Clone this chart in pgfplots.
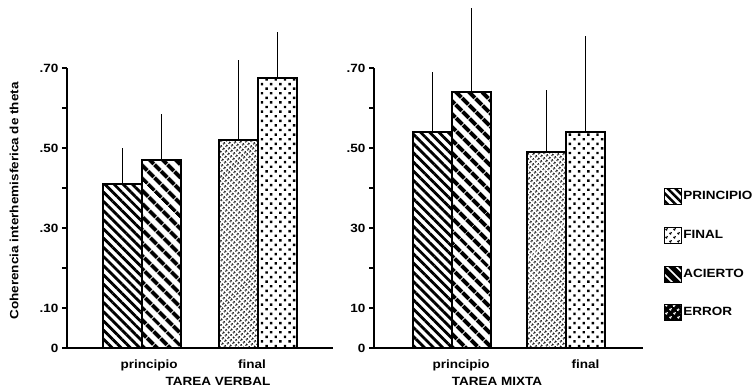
\documentclass[border=0pt]{standalone}
\usepackage{pgfplots}
\pgfplotsset{compat=1.18}
\usepackage{fontspec}
\usetikzlibrary{patterns.meta}
\newfontfamily\wide[FakeStretch=1.13]{Liberation Sans Bold}
\newcommand\lab{\wide\fontsize{12}{14}\selectfont}

% fill styles of the four bar kinds
\tikzset{
  thinhatch/.style={pattern={Lines[angle=-45,distance=6.5bp,line width=2.8bp]}},
  thickhatch/.style={pattern={Lines[angle=-45,distance=9.5bp,line width=4.2bp]}},
  finedots/.style={pattern={Dots[angle=45,distance=3.6bp,radius=1.4bp]}},
  coarsedots/.style={pattern={Dots[angle=45,distance=6.5bp,radius=1.7bp]}},
}

\pgfplotsset{
  panel/.style={
    scale only axis, height=280bp,
    ymin=0, ymax=0.70, clip=false,
    axis lines=left, axis line style={-, line width=1.8bp},
    ytick={0,0.1,0.2,0.3,0.4,0.5,0.6,0.7},
    tick align=outside, major tick length=5bp,
    y tick style={line width=1.2bp, black},
    x tick style={draw=none},
    tick label style={font=\lab},
    x tick label style={yshift=-3bp},
    label style={font=\lab},
  },
  bar/.style={
    ybar, bar width=39bp, bar shift=0pt, draw=black, line width=1.5bp, forget plot,
    error bars/y dir=plus, error bars/y explicit, error bars/error mark=none,
    error bars/error bar style={line width=1.3bp},
  },
}

\begin{document}
\begin{tikzpicture}
\useasboundingbox (0,0) rectangle (755bp,392bp);

% verbal task: bars placed half a bar width either side of each group centre
\begin{axis}[panel, at={(67bp,44bp)}, anchor=south west,
  width=266bp, xmin=0.35, xmax=2.65,
  yticklabels={0,.10,,.30,,.50,,.70},
  xtick={1.06,1.95}, xticklabels={principio,final},
  xlabel={TAREA VERBAL},
  xlabel style={at={(axis description cs:0.568,0)}, anchor=north, yshift=-26bp},
  ylabel={Coherencia interhemisferica de theta},
  ylabel style={at={(axis description cs:-0.199,0.525)}, anchor=center},
]
\addplot[bar, thinhatch]  coordinates {(0.8314,0.41)  +- (0,0.09)};
\addplot[bar, thickhatch] coordinates {(1.1686,0.47)  +- (0,0.115)};
\addplot[bar, finedots]   coordinates {(1.8314,0.52)  +- (0,0.20)};
\addplot[bar, coarsedots] coordinates {(2.1686,0.675) +- (0,0.115)};
\end{axis}

% mixed task
\begin{axis}[panel, at={(374bp,44bp)}, anchor=south west,
  width=269bp, xmin=0.316, xmax=2.675,
  yticklabels={0,10,,30,,.50,,.70},
  xtick={1.08,2.17}, xticklabels={principio,final},
  xlabel={TAREA MIXTA},
  xlabel style={at={(axis description cs:0.457,0)}, anchor=north, yshift=-26bp},
  legend style={at={(axis description cs:1.063,0.582)}, anchor=north west,
    draw=none, fill=none, font=\lab, row sep=21bp,
    nodes={inner sep=0.8bp}},
  legend cell align=left,
]
\addplot[bar, thinhatch]  coordinates {(0.829,0.54)  +- (0,0.15)};
\addplot[bar, thickhatch] coordinates {(1.171,0.64)  +- (0,0.21)};
\addplot[bar, finedots]   coordinates {(1.829,0.49)  +- (0,0.155)};
\addplot[bar, coarsedots] coordinates {(2.171,0.54)  +- (0,0.24)};

\addlegendimage{legend image code/.code={
  \draw[line width=1.6bp, pattern={Lines[angle=-45,distance=5.5bp,line width=2.4bp]}]
    (0bp,-8bp) rectangle (17bp,8bp);}}
\addlegendentry{PRINCIPIO}
\addlegendimage{legend image code/.code={
  \draw[line width=1.6bp, pattern={Dots[angle=45,distance=6bp,radius=1.6bp]}]
    (0bp,-8bp) rectangle (17bp,8bp);}}
\addlegendentry{FINAL}
\addlegendimage{legend image code/.code={
  \fill[black] (0bp,-8bp) rectangle (17bp,8bp);
  \fill[pattern={Lines[angle=-45,distance=7bp,line width=1.6bp]}, pattern color=white]
    (0bp,-8bp) rectangle (17bp,8bp);}}
\addlegendentry{ACIERTO}
\addlegendimage{legend image code/.code={
  \fill[black] (0bp,-8bp) rectangle (17bp,8bp);
  \fill[pattern={Dots[angle=45,distance=6bp,radius=1.6bp]}, pattern color=white]
    (0bp,-8bp) rectangle (17bp,8bp);}}
\addlegendentry{ERROR}
\end{axis}
\end{tikzpicture}
\end{document}
